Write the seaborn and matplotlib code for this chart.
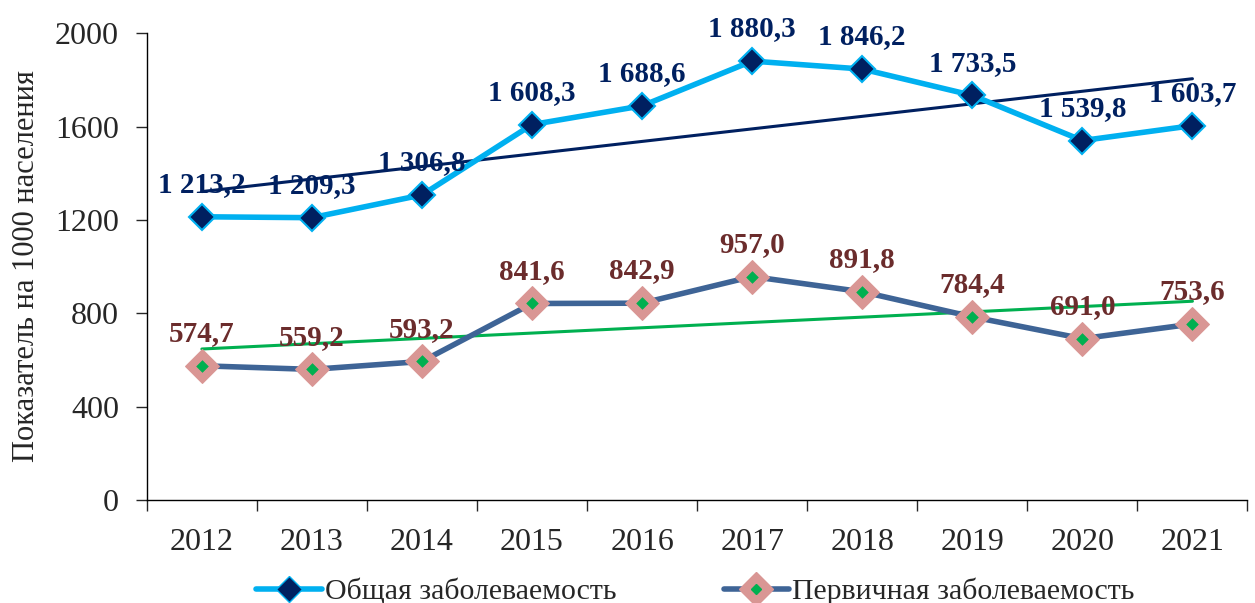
import numpy as np
import pandas as pd
import matplotlib
matplotlib.use("Agg")
import matplotlib.pyplot as plt
import seaborn as sns
from matplotlib.lines import Line2D

years = [2012, 2013, 2014, 2015, 2016, 2017, 2018, 2019, 2020, 2021]
general = [1213.2, 1209.3, 1306.8, 1608.3, 1688.6, 1880.3, 1846.2, 1733.5, 1539.8, 1603.7]
primary = [574.7, 559.2, 593.2, 841.6, 842.9, 957.0, 891.8, 784.4, 691.0, 753.6]
general_labels = ["1 213,2", "1 209,3", "1 306,8", "1 608,3", "1 688,6",
                  "1 880,3", "1 846,2", "1 733,5", "1 539,8", "1 603,7"]
primary_labels = ["574,7", "559,2", "593,2", "841,6", "842,9",
                  "957,0", "891,8", "784,4", "691,0", "753,6"]

sns.set_style("white")
plt.rcParams["font.family"] = ["Liberation Serif", "DejaVu Serif"]

df = pd.DataFrame({"i": range(len(years)), "general": general, "primary": primary})

fig = plt.figure(figsize=(12.55, 6.03), dpi=100)
ax = fig.add_axes([0.117, 0.171, 0.877, 0.774])

# trend lines
x = np.arange(len(years))
pg = np.polyfit(x, general, 1)
pp = np.polyfit(x, primary, 1)
ax.plot(x, np.polyval(pg, x), color="#002060", lw=2.2, zorder=2)
ax.plot(x, np.polyval(pp, x), color="#00B050", lw=2.2, zorder=2)

sns.lineplot(data=df, x="i", y="general", ax=ax, color="#00B0F0", lw=4,
             marker="D", markersize=13, markerfacecolor="#002060",
             markeredgecolor="#00B0F0", markeredgewidth=1.5, zorder=3)
sns.lineplot(data=df, x="i", y="primary", ax=ax, color="#3E6496", lw=4,
             marker="D", markersize=17, markerfacecolor="#D99694",
             markeredgecolor="#D99694", zorder=3)
sns.scatterplot(data=df, x="i", y="primary", ax=ax, marker="D", s=35,
                color="#00B050", edgecolor="#00B050", zorder=4)

for i in range(len(years)):
    ax.text(i, general[i] + 80, general_labels[i], ha="center", va="bottom",
            fontsize=21, fontweight="bold", color="#002060", clip_on=False)
    ax.text(i, primary[i] + 80, primary_labels[i], ha="center", va="bottom",
            fontsize=21, fontweight="bold", color="#6B2C2C", clip_on=False)

ax.set_xlim(-0.5, len(years) - 0.5)
ax.set_ylim(0, 2000)
ax.set_yticks([0, 400, 800, 1200, 1600, 2000])
ax.set_xticks(x)
ax.set_xticklabels(years)
ax.set_xticks(np.arange(-0.5, len(years)), minor=True)
ax.tick_params(axis="x", which="major", length=0, labelsize=23, pad=20)
ax.tick_params(axis="x", which="minor", length=8, width=1, direction="out", bottom=True)
ax.tick_params(axis="y", length=8, width=1, direction="out", left=True, labelsize=23, pad=12)
ax.set_xlabel("")
ax.set_ylabel("Показатель на 1000 населения", fontsize=22, labelpad=10)
for s in ["top", "right"]:
    ax.spines[s].set_visible(False)
for s in ["left", "bottom"]:
    ax.spines[s].set_color("black")
    ax.spines[s].set_linewidth(1)

h1 = Line2D([], [], color="#00B0F0", lw=4, marker="D", markersize=13,
            markerfacecolor="#002060", markeredgecolor="#00B0F0")
h2a = Line2D([], [], color="#3E6496", lw=4, marker="D", markersize=17,
             markerfacecolor="#D99694", markeredgecolor="#D99694")
h2b = Line2D([], [], ls="none", marker="D", markersize=5.5, color="#00B050")
fig.legend([h1, (h2a, h2b)], ["Общая заболеваемость", "Первичная заболеваемость"],
           loc="lower center", bbox_to_anchor=(0.554, -0.048), ncol=2, frameon=False,
           fontsize=21.5, handlelength=2.2, handletextpad=0.1, columnspacing=3.6)

fig.savefig("out.png", dpi=100)
